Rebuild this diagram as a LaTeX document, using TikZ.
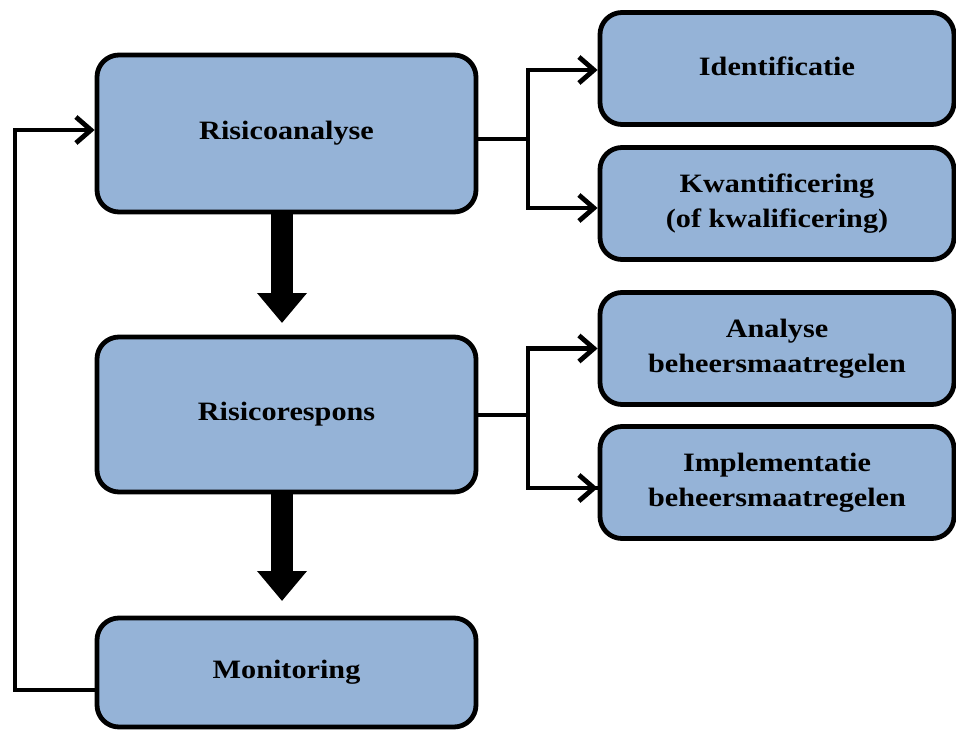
\documentclass[tikz,border=0pt]{standalone}
\usepackage{fontspec}
\setmainfont{Liberation Serif}[FakeStretch=1.14]
\usetikzlibrary{arrows.meta}
\definecolor{boxblue}{RGB}{149,179,215}
\begin{document}
\begin{tikzpicture}[x=1pt,y=-1pt,
  stagebox/.style={draw=black, line width=4.8pt, fill=boxblue, rounded corners=22pt,
    minimum width=379pt, inner sep=0pt, align=center,
    font=\bfseries\fontsize{26.5}{35}\selectfont},
  subbox/.style={stagebox, minimum width=354pt, minimum height=112pt},
  link/.style={line width=4.8pt, line join=miter},
  linkarrow/.style={link, -{Straight Barb[length=15pt,width=26pt,line width=4.8pt]}},
  bigarrow/.style={line width=22pt, -{Triangle[length=30pt,width=48pt]}}]

  % canvas
  \fill[white] (0,0) rectangle (956,731);
  \useasboundingbox (0,0) rectangle (956,731);

  % main stages
  \node[stagebox, minimum height=157pt] (ra) at (286.5,133.5) {Risicoanalyse};
  \node[stagebox, minimum height=155pt] (rr) at (286.5,414.5) {Risicorespons};
  \node[stagebox, minimum height=109pt] (mo) at (286.5,672.5) {Monitoring};

  % sub steps
  \node[subbox] (id) at (777,68.5)  {\raisebox{4pt}{Identificatie}};
  \node[subbox] (kw) at (777,203.5) {Kwantificering\\(of kwalificering)};
  \node[subbox] (an) at (777,348.5) {Analyse\\beheersmaatregelen};
  \node[subbox] (im) at (777,482.5) {Implementatie\\beheersmaatregelen};

  % forks to the sub steps
  \coordinate (f1) at (528,139);
  \coordinate (f2) at (528,415);
  \draw[link] ([yshift=-5.5pt]ra.east) -- (f1);
  \draw[linkarrow] (f1) |- ([yshift=-1.5pt]id.west);
  \draw[linkarrow] (f1) |- ([yshift=-4.5pt]kw.west);
  \draw[linkarrow] (rr.east |- f2) -- (f2) |- (an.west);
  \draw[link] (f2) |- ([yshift=-5.5pt]im.west);
  \draw[linkarrow] ([yshift=-5.5pt]im.west -| f2) -- ([yshift=-5.5pt]im.west);

  % feedback loop
  \coordinate (lb) at (15,690);
  \draw[linkarrow] (mo.west |- lb) -- (lb) |- ([yshift=3.5pt]ra.west);

  % flow between stages
  \draw[bigarrow] (282,212) -- (282,323);
  \draw[bigarrow] (282,492) -- (282,601);
\end{tikzpicture}
\end{document}
